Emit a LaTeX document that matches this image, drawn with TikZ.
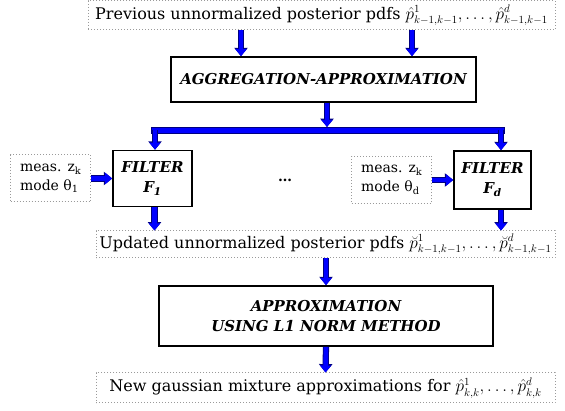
\documentclass[tikz,border=0pt]{standalone}
\usepackage{fontspec}
\setmainfont{DejaVu Serif}
\usepackage{xcolor}
\definecolor{flowBlue}{HTML}{0000FF}
\definecolor{flowEdge}{HTML}{000080}
\definecolor{noteBorder}{HTML}{9A9A9A}
\usepackage{tikz}
\usetikzlibrary{arrows.meta,positioning,calc}
\tikzset{
    note/.style={
        draw=noteBorder,
        dotted,
        line width=1pt,
        rectangle,
        align=center,
        inner sep=2pt,
        font=\fontsize{16}{19}\selectfont
    },
    smallnote/.style={
        note,
        align=left,
        minimum width=80,
        minimum height=47,
        font=\fontsize{14}{19}\selectfont
    },
    stage/.style={
        draw=black,
        fill=white,
        rectangle,
        line width=1.6pt,
        align=center,
        font=\fontsize{15}{20}\selectfont\bfseries\itshape
    },
    flow/.style={
        -{Triangle[width=11pt,length=7pt]},
        line width=4.6pt,
        color=flowBlue,
        preaction={draw=flowEdge, line width=6.2pt, -{Triangle[width=13pt,length=8.4pt]}}
    },
    barline/.style={
        line width=5.6pt,
        line cap=rect,
        color=flowBlue,
        preaction={draw=flowEdge, line width=7.2pt, line cap=rect}
    }
}

\begin{document}
\begin{tikzpicture}[x=1pt,y=-1pt]
    \useasboundingbox (0,0) rectangle (565,411);

    % Input pdfs
    \node[note, minimum width=467, minimum height=29] (prev) at (321.5,15.5)
        {Previous unnormalized posterior pdfs\ $\hat{p}^{1}_{k-1,k-1},\ldots,\hat{p}^{d}_{k-1,k-1}$};

    % Aggregation
    \node[stage, minimum width=305, minimum height=45] (agg) at (323.5,79.5) {AGGREGATION-APPROXIMATION};

    % Split bar
    \coordinate (split) at (327,127);
    \coordinate (barL) at (155,130.5);
    \coordinate (barR) at (501,130.5);

    % Filters
    \node[stage, minimum width=79, minimum height=56] (f1) at (152.5,178.5) {FILTER\\F\textsubscript{1}};
    \node[stage, minimum width=77, minimum height=58] (fd) at (492.5,180) {FILTER\\F\textsubscript{d}};
    \node[smallnote, left=21pt of f1] (m1) {meas. z\textsubscript{k}\\mode θ\textsubscript{1}};
    \node[smallnote, left=21pt of fd] (md) {meas. z\textsubscript{k}\\mode θ\textsubscript{d}};
    \node[font=\fontsize{14}{16}\selectfont\bfseries] (dots) at (285,180) {\ldots};

    % Updated pdfs
    \node[note, minimum width=459, minimum height=27] (upd) at (325.5,244.5)
        {Updated unnormalized posterior pdfs $\breve{p}^{1}_{k-1,k-1},\ldots,\breve{p}^{d}_{k-1,k-1}$};

    % L1 approximation
    \node[stage, minimum width=334, minimum height=60] (approx) at (326,316)
        {APPROXIMATION\\USING L1 NORM METHOD};

    % Output
    \node[note, minimum width=459, minimum height=30] (new) at (325.5,388)
        {New gaussian mixture approximations for\ $\hat{p}^{1}_{k,k},\ldots,\hat{p}^{d}_{k,k}$};

    % Arrows
    \draw[flow] ([xshift=-80.5]prev.south) -- ([xshift=-80.5]prev.south |- agg.north);
    \draw[flow] ([xshift=90.5]prev.south) -- ([xshift=90.5]prev.south |- agg.north);
    \draw[flow] (split |- agg.south) -- (split);
    \draw[barline] (barL) -- (barR);
    \draw[flow] (barL) -- (barL |- f1.north);
    \draw[flow] (barR) -- (barR |- fd.north);
    \draw[flow] (m1.east) -- (f1.west);
    \draw[flow] (md.east) -- (fd.west);
    \draw[flow] ([xshift=2]f1.south) -- ([xshift=2]f1.south |- upd.north);
    \draw[flow] (barR |- fd.south) -- (barR |- upd.north);
    \draw[flow] (approx.north |- upd.south) -- (approx.north);
    \draw[flow] (approx.south) -- (new.north);
\end{tikzpicture}
\end{document}
